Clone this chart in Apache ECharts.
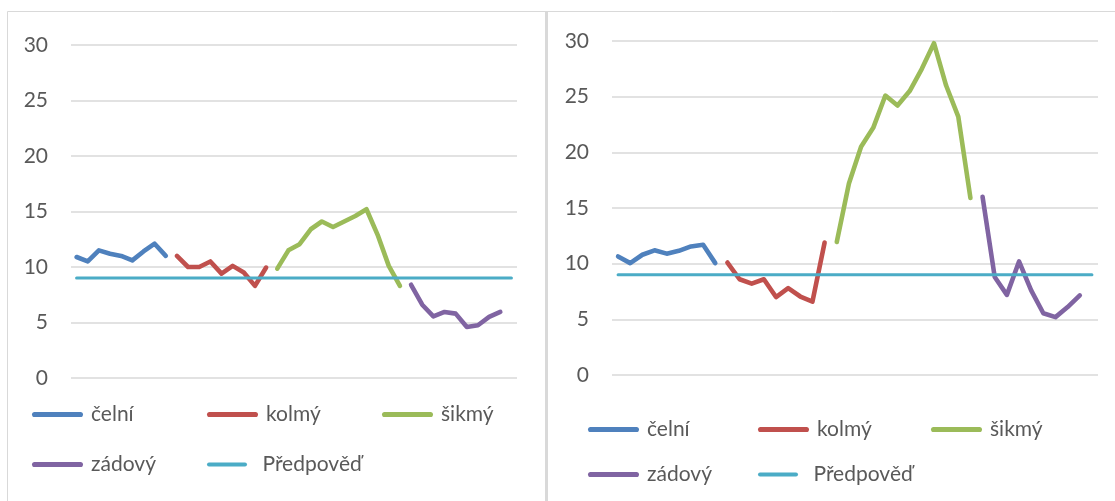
<!DOCTYPE html>
<html>
<head>
<meta charset="utf-8">
<script src="https://cdn.jsdelivr.net/npm/echarts@6/dist/echarts.min.js"></script>
<style>
  html, body { margin: 0; padding: 0; background: #fff; }
  #chart { width: 1115px; height: 501px; }
</style>
</head>
<body>
<div id="chart"></div>
<script>
// category axis: 40 measurements, no labels shown
var categories = [];
for (var i = 1; i <= 40; i++) categories.push(String(i));

var yTicks = [0, 5, 10, 15, 20, 25, 30];
var seriesNames = ['čelní', 'kolmý', 'šikmý', 'zádový', 'Předpověď'];

// left chart
var leftCelni  = [10.9, 10.5, 11.5, 11.2, 11.0, 10.6, 11.4, 12.1, 11.0];
var leftKolmy  = [11.0, 10.0, 10.0, 10.5, 9.4, 10.1, 9.5, 8.3, 9.95];
var leftSikmy  = [9.85, 11.5, 12.05, 13.4, 14.1, 13.6, 14.1, 14.6, 15.2, 12.9, 10.1, 8.3];
var leftZadovy = [8.4, 6.6, 5.55, 5.95, 5.8, 4.6, 4.75, 5.5, 5.95];

// right chart
var rightCelni  = [10.65, 10.05, 10.8, 11.2, 10.9, 11.15, 11.55, 11.7, 10.05];
var rightKolmy  = [10.1, 8.6, 8.2, 8.6, 7.0, 7.8, 7.05, 6.6, 11.9];
var rightSikmy  = [11.95, 17.2, 20.5, 22.2, 25.1, 24.2, 25.5, 27.5, 29.8, 26.0, 23.2, 15.9];
var rightZadovy = [16.0, 8.8, 7.2, 10.2, 7.6, 5.55, 5.2, 6.1, 7.15];

var predpoved = 9;

// start index of each segment on the shared category axis
var starts = [0, 9, 18, 30];

var colors = ['#4F81BD', '#C0504D', '#9BBB59', '#8064A2', '#4BACC6'];
var textColor = '#595959';
var font = 'Lato';
// capsule shaped legend key (stretched to itemWidth x itemHeight)
var capsule = 'path://M5,0 H95 A5,5 0 0 1 95,10 H5 A5,5 0 0 1 5,0 Z';

function pad(values, start) {
  var out = [];
  for (var i = 0; i < categories.length; i++) {
    var k = i - start;
    out.push(k >= 0 && k < values.length ? values[k] : null);
  }
  return out;
}

function lineSeries(name, data, idx, color, width) {
  return {
    name: name,
    type: 'line',
    xAxisIndex: idx,
    yAxisIndex: idx,
    data: data,
    symbol: 'none',
    showSymbol: false,
    silent: true,
    lineStyle: { color: color, width: width, cap: 'round', join: 'round' },
    itemStyle: { color: color }
  };
}

function chartSeries(idx, segs) {
  var out = [];
  for (var s = 0; s < 4; s++) {
    out.push(lineSeries(seriesNames[s], pad(segs[s], starts[s]), idx, colors[s], 4.6));
  }
  var flat = categories.map(function () { return predpoved; });
  out.push(lineSeries(seriesNames[4], flat, idx, colors[4], 3));
  return out;
}

function legendItem(name, left, cy) {
  var thin = name === 'Předpověď';
  return {
    data: [name],
    left: left,
    top: cy - 9,
    padding: 0,
    icon: capsule,
    itemWidth: 51,
    itemHeight: thin ? 4 : 5.5,
    selectedMode: false,
    textStyle: { fontSize: 21, color: textColor, fontFamily: font, padding: [0, 0, 0, thin ? 5 : 3] }
  };
}

function yAxis(idx) {
  return {
    type: 'value',
    gridIndex: idx,
    min: 0,
    max: 30,
    interval: 5,
    axisLine: { show: false },
    axisTick: { show: false },
    axisLabel: { fontSize: 21, color: textColor, fontFamily: font, margin: 23 },
    splitLine: { lineStyle: { color: '#d9d9d9', width: 1.5 } }
  };
}

function xAxis(idx) {
  return {
    type: 'category',
    gridIndex: idx,
    data: categories,
    boundaryGap: true,
    axisLine: { show: false },
    axisTick: { show: false },
    axisLabel: { show: false },
    splitLine: { show: false }
  };
}

var chart = echarts.init(document.getElementById('chart'));
chart.setOption({
  animation: false,
  backgroundColor: '#fff',
  graphic: [
    { type: 'rect', shape: { x: 7.5, y: 11.5, width: 539, height: 520 },
      style: { fill: 'none', stroke: '#d9d9d9', lineWidth: 1 }, silent: true, z: -1 },
    { type: 'rect', shape: { x: 546.5, y: 11.5, width: 600, height: 520 },
      style: { fill: 'none', stroke: '#d9d9d9', lineWidth: 1 }, silent: true, z: -1 },
    { type: 'line', shape: { x1: 546.5, y1: 11, x2: 546.5, y2: 501 },
      style: { stroke: '#d9d9d9', lineWidth: 3 }, silent: true, z: -1 }
  ],
  grid: [
    { left: 71, top: 45, width: 446, height: 333 },
    { left: 612, top: 41, width: 486, height: 334 }
  ],
  xAxis: [xAxis(0), xAxis(1)],
  yAxis: [yAxis(0), yAxis(1)],
  legend: [
    legendItem('čelní', 32, 413),
    legendItem('kolmý', 207, 413),
    legendItem('šikmý', 382, 413),
    legendItem('zádový', 32, 463),
    legendItem('Předpověď', 207, 463),
    legendItem('čelní', 588, 428),
    legendItem('kolmý', 758, 428),
    legendItem('šikmý', 931, 428),
    legendItem('zádový', 588, 473),
    legendItem('Předpověď', 758, 473)
  ],
  series: chartSeries(0, [leftCelni, leftKolmy, leftSikmy, leftZadovy])
    .concat(chartSeries(1, [rightCelni, rightKolmy, rightSikmy, rightZadovy]))
});
</script>
</body>
</html>
